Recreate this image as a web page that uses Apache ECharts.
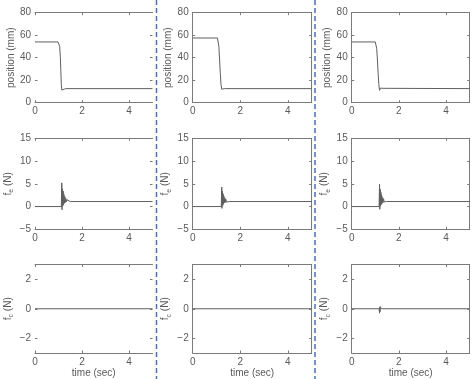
<!DOCTYPE html>
<html><head><meta charset="utf-8">
<script src="https://cdn.jsdelivr.net/npm/echarts@6/dist/echarts.min.js"></script>
<style>html,body{margin:0;padding:0;background:#fff}#c{width:474px;height:379px}</style>
</head><body><div id="c"></div>
<script>
// ---- data ----
const xTicks = [0, 2, 4];
const posTicks = [0, 20, 40, 60, 80];
const feTicks = [-5, 0, 5, 10, 15];
const fcTicks = [-2, 0, 2];

// row 1: position (mm)
const posT1 = [0, 0.98, 1.02, 1.05, 1.08, 1.1, 1.12, 1.14, 1.17, 1.2, 1.3, 5];
const posV1 = [54, 54, 53.5, 50, 40, 28, 16, 11.2, 11.5, 12.2, 12.5, 12.5];
const posT2 = [0, 1.04, 1.07, 1.1, 1.13, 1.16, 1.19, 1.22, 1.25, 1.35, 5];
const posV2 = [57.5, 57.5, 56, 50, 38, 26, 16, 12, 12.3, 12.5, 12.5];
const posT3 = [0, 1.0, 1.03, 1.06, 1.09, 1.12, 1.15, 1.18, 1.2, 1.22, 1.24, 1.26, 1.28, 1.32, 1.4, 5];
const posV3 = [54, 54, 53, 48, 38, 26, 16, 11, 10.5, 13, 11.5, 13, 12, 12.8, 12.5, 12.5];

// row 2: f_e (N)
const feT1 = [0, 1.12, 1.14, 1.15, 1.17, 1.18, 1.2, 1.21, 1.23, 1.25, 1.27, 1.29, 1.31, 1.33, 1.36, 1.39, 1.43, 1.5, 5];
const feV1 = [0, 0, 5.2, -0.7, 3.9, 0.1, 3.4, 0.4, 2.7, 0.7, 2.2, 0.9, 1.8, 1.0, 1.5, 1.1, 1.3, 1.1, 1.1];
const feT2 = [0, 1.2, 1.22, 1.23, 1.25, 1.26, 1.28, 1.29, 1.31, 1.33, 1.35, 1.37, 1.39, 1.42, 1.46, 1.5, 1.56, 5];
const feV2 = [0, 0, 4.3, -0.4, 3.4, 0.2, 2.8, 0.5, 2.3, 0.8, 1.9, 0.9, 1.6, 1.0, 1.3, 1.1, 1.1, 1.1];
const feT3 = [0, 1.16, 1.18, 1.19, 1.21, 1.22, 1.24, 1.25, 1.27, 1.29, 1.31, 1.33, 1.35, 1.38, 1.42, 1.47, 1.55, 5];
const feV3 = [0, 0, 4.9, -0.6, 3.8, 0.1, 3.1, 0.4, 2.5, 0.7, 2.0, 0.9, 1.7, 1.0, 1.4, 1.1, 1.1, 1.1];

// row 3: f_c (N)
const fcT1 = [0, 5];
const fcV1 = [0, 0];
const fcT2 = [0, 5];
const fcV2 = [0, 0];
const fcT3 = [0, 1.16, 1.18, 1.19, 1.2, 1.21, 1.22, 1.24, 1.26, 1.3, 5];
const fcV3 = [0, 0, -0.3, 0.1, -0.2, 0.15, 0.05, 0.08, 0, 0.02, 0];

// ---- chart ----
const zip = (t, v) => t.map((x, i) => [x, v[i]]);
const panels = [
  [zip(posT1, posV1), zip(posT2, posV2), zip(posT3, posV3)],
  [zip(feT1, feV1), zip(feT2, feV2), zip(feT3, feV3)],
  [zip(fcT1, fcV1), zip(fcT2, fcV2), zip(fcT3, fcV3)]
];
const yTicks = [posTicks, feTicks, fcTicks];
const yRange = [[0, 80], [-5, 15], [-3, 3]];
const yNames = ['position (mm)', '{a|f}{b|e}{a| (N)}', '{a|f}{b|c}{a| (N)}'];
const yNameGap = [18, 20, 20];

const colLeft = [35, 192.7, 351.7];
const colW = [117.5, 119, 118];
const rowTop = [12.7, 138.3, 264.5];
const rowH = [90, 91, 91];

const txt = '#5a5a5a';
const ax = '#7a7a7a';
const font = 'Liberation Sans, Arial, sans-serif';

const grid = [], xAxis = [], yAxis = [], series = [];
for (let r = 0; r < 3; r++) {
  for (let c = 0; c < 3; c++) {
    const g = grid.length;
    grid.push({left: colLeft[c], top: rowTop[r], width: colW[c], height: rowH[r], containLabel: false});
    const showY = c !== 0;
    const tickStyle = {show: true, inside: true, length: 2.5, lineStyle: {color: ax}};
    xAxis.push({
      gridIndex: g, type: 'value', min: 0, max: 5, position: 'bottom',
      axisLine: {show: true, onZero: false, lineStyle: {color: ax, width: 1}},
      axisTick: Object.assign({customValues: xTicks}, tickStyle),
      axisLabel: {customValues: xTicks, color: txt, fontSize: 10, fontFamily: font, margin: 4},
      splitLine: {show: false},
      name: r === 2 ? 'time (sec)' : '', nameLocation: 'middle', nameGap: 15,
      nameTextStyle: {color: txt, fontSize: 10, fontFamily: font}
    });
    xAxis.push({
      gridIndex: g, type: 'value', min: 0, max: 5, position: 'top',
      axisLine: {show: true, onZero: false, lineStyle: {color: ax, width: 1}},
      axisTick: Object.assign({customValues: xTicks}, tickStyle),
      axisLabel: {show: false}, splitLine: {show: false}
    });
    yAxis.push({
      gridIndex: g, type: 'value', min: yRange[r][0], max: yRange[r][1], position: 'left',
      axisLine: {show: showY, onZero: false, lineStyle: {color: ax, width: 1}},
      axisTick: Object.assign({customValues: yTicks[r]}, tickStyle),
      axisLabel: {customValues: yTicks[r], color: txt, fontSize: 10, fontFamily: font, margin: 4,
        formatter: v => (v < 0 ? '\u2212' + (-v) : '' + v)},
      splitLine: {show: false},
      name: yNames[r], nameLocation: 'middle', nameRotate: 90, nameGap: yNameGap[r],
      nameTextStyle: {color: txt, fontSize: 10, fontFamily: font,
        rich: {a: {fontSize: 10, color: txt, fontFamily: font, lineHeight: 14},
               b: {fontSize: 7, color: txt, fontFamily: font, verticalAlign: 'bottom', lineHeight: 14}}}
    });
    yAxis.push({
      gridIndex: g, type: 'value', min: yRange[r][0], max: yRange[r][1], position: 'right',
      axisLine: {show: showY, onZero: false, lineStyle: {color: ax, width: 1}},
      axisTick: Object.assign({customValues: yTicks[r]}, tickStyle),
      axisLabel: {show: false}, splitLine: {show: false}
    });
    series.push({
      type: 'line', xAxisIndex: 2 * g, yAxisIndex: 2 * g, data: panels[r][c],
      showSymbol: false, symbol: 'none', animation: false,
      lineStyle: {color: '#5f5f5f', width: 1}, silent: true
    });
  }
}

const dash = x => ({type: 'line', shape: {x1: x, y1: 0, x2: x, y2: 379}, silent: true,
  style: {stroke: '#4274c4', lineWidth: 1.5, lineDash: [5, 3]}});

const chart = echarts.init(document.getElementById('c'), null, {renderer: 'canvas'});
chart.setOption({
  animation: false, backgroundColor: '#fff',
  grid, xAxis, yAxis, series,
  graphic: [dash(156.5), dash(315)]
});
</script></body></html>
